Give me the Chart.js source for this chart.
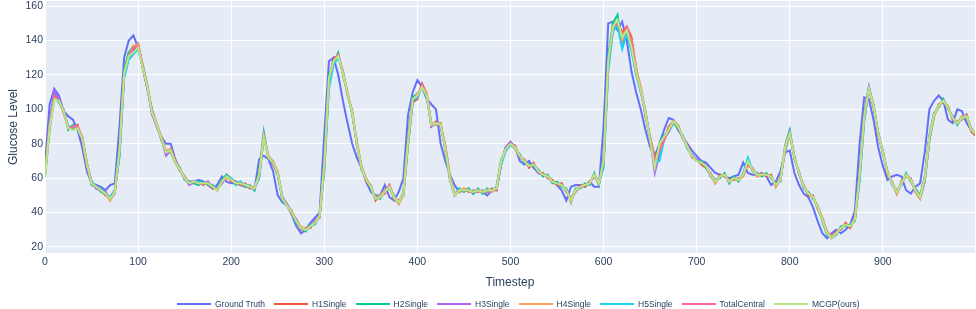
<!DOCTYPE html>
<html>
<head>
<meta charset="utf-8">
<script src="https://cdn.jsdelivr.net/npm/chart.js@4.4.1/dist/chart.umd.min.js"></script>
<style>
  body { margin: 0; background: #fff; }
  #wrap { position: relative; width: 976px; height: 309px; }
  #legend {
    position: absolute; left: 177px; top: 297px; height: 14px;
    display: flex; align-items: center;
    font-family: "Liberation Sans", Arial, sans-serif; font-size: 8.5px; color: #2a3f5f;
    white-space: nowrap;
  }
  .item { display: flex; align-items: center; margin-right: 9px; }
  .swatch { width: 34px; height: 2px; margin-right: 4px; }
</style>
</head>
<body>
<div id="wrap">
  <canvas id="glucoseChart" width="976" height="309"></canvas>
  <div id="legend"></div>
</div>
<script>
// Sampling grid (every 5th timestep, plus the last one)
const timesteps = Array.from({ length: 200 }, (_, i) => i * 5).concat([999]);

const xTicks = [0, 100, 200, 300, 400, 500, 600, 700, 800, 900];
const yTicks = [20, 40, 60, 80, 100, 120, 140, 160];

const seriesNames = ['Ground Truth', 'H1Single', 'H2Single', 'H3Single', 'H4Single', 'H5Single', 'TotalCentral', 'MCGP(ours)'];
const seriesColors = ['#636EFA', '#EF553B', '#00CC96', '#AB63FA', '#FFA15A', '#19D3F3', '#FF6692', '#B6E880'];

const groundTruth = [
  68,103,112,108,99,96,94,88,78,64,57,56,55,53,56,57,90,130,140,143,
  136,124,112,100,91,84,80,80,71,65,60,58,58,59,58,56,54,56,61,58,
  57,57,56,55,55,53,71,73,71,64,50,46,44,39,32,28,30,34,37,40,
  85,128,130,120,105,92,80,72,66,58,52,50,50,56,49,47,52,60,97,110,
  117,113,106,103,100,80,70,62,56,52,53,54,51,53,52,50,53,53,68,78,
  81,78,70,68,70,66,63,62,61,58,56,53,47,55,56,56,55,58,55,55,
  90,150,151,146,151,140,122,110,100,88,78,73,80,88,95,94,88,84,80,76,
  73,70,69,66,63,62,61,60,61,62,69,63,62,62,63,61,56,58,64,75,
  76,63,56,51,49,43,35,28,25,28,30,28,30,33,41,80,107,106,94,78,
  67,59,61,62,61,53,51,55,57,75,100,105,108,105,94,92,100,99,92,88,86
];

const h1Single = [
  63,92,108,106,98,90,89,91,82,67,58,54,53,50,49,53,74,120,133,134,
  138,124,112,99,90,84,74,77,70,64,61,57,57,58,56,58,54,54,57,62,
  58,58,56,57,54,55,60,84,73,68,62,49,45,39,36,30,31,31,35,37,
  66,116,130,131,122,108,99,79,67,58,56,47,50,51,56,48,47,50,80,104,
  106,115,109,90,93,90,79,61,51,52,54,52,53,52,53,52,54,53,68,78,
  79,79,72,71,66,69,63,63,60,59,56,57,52,48,52,56,55,58,61,58,
  68,125,146,150,145,148,142,124,112,96,84,72,76,82,90,93,91,83,79,72,
  71,68,66,63,57,62,61,59,59,60,61,68,66,61,63,61,62,55,60,76,
  85,73,62,56,50,50,42,37,29,26,29,30,34,31,37,60,94,111,103,85,
  76,62,58,51,58,61,60,52,48,58,82,96,103,104,102,94,93,94,97,87,85
];

const h2Single = [
  61,88,109,104,100,88,91,89,84,69,56,55,52,51,47,53,78,124,133,137,
  136,126,114,97,92,82,76,75,69,66,59,58,57,56,58,56,56,53,59,62,
  60,56,58,55,56,53,64,87,71,70,62,47,44,41,34,31,29,33,33,39,
  70,120,127,133,120,110,97,81,65,60,54,49,48,53,54,50,45,52,84,107,
  109,113,107,92,91,92,76,59,50,54,52,54,51,54,51,54,52,55,71,76,
  81,77,74,69,68,67,65,61,62,57,58,55,54,46,54,54,57,56,63,56,
  72,131,150,155,137,144,135,121,110,99,81,67,80,85,87,92,89,85,77,74,
  70,70,66,62,59,60,63,57,61,58,63,71,64,63,61,63,60,57,58,79,
  88,71,64,54,52,48,44,35,27,25,27,32,32,33,35,63,97,113,101,87,
  74,64,56,53,56,63,58,54,50,61,85,98,101,106,100,96,91,96,95,89,86
];

const h3Single = [
  63,93,111,106,99,90,88,90,82,68,58,54,53,52,48,51,75,121,130,135,
  138,125,112,97,90,83,73,76,70,65,60,56,58,57,57,58,55,54,57,61,
  59,58,57,56,55,54,61,85,72,68,64,48,45,40,36,31,30,32,35,38,
  67,117,129,131,122,109,98,80,66,59,55,48,49,52,55,49,46,51,81,105,
  107,114,108,90,92,90,78,60,51,53,53,53,52,53,52,53,53,54,69,78,
  81,78,72,70,67,68,63,62,61,58,57,56,53,48,53,55,56,57,61,57,
  69,127,147,151,139,146,137,121,112,99,83,63,74,83,87,93,90,84,78,73,
  71,69,67,61,58,61,62,58,60,59,62,69,65,62,62,62,61,56,59,78,
  87,72,63,55,51,49,43,36,28,25,28,31,33,32,36,62,97,113,102,86,
  75,63,57,52,57,62,59,53,49,60,84,97,102,105,101,95,92,95,96,88,86
];

const h4Single = [
  62,89,106,105,98,89,90,90,84,69,57,55,53,51,47,52,74,120,131,137,
  138,126,114,99,92,84,76,77,70,65,61,57,58,57,57,57,55,53,58,60,
  59,57,57,56,55,54,62,83,73,70,64,49,44,41,35,32,30,32,34,38,
  65,114,127,131,122,110,99,82,67,60,55,48,50,53,55,48,45,50,79,105,
  109,113,110,92,91,92,79,62,51,52,54,53,52,53,52,53,52,54,69,77,
  80,77,73,70,67,68,64,62,61,58,57,56,53,46,53,55,56,57,62,57,
  67,124,146,151,140,147,140,124,113,98,84,70,77,83,89,93,91,84,79,73,
  70,69,67,62,57,61,62,58,60,59,61,69,65,61,62,62,61,55,59,77,
  85,72,63,56,51,49,44,37,29,26,28,31,33,32,36,59,94,111,102,86,
  75,64,57,51,57,62,59,52,48,58,83,96,102,105,102,95,92,96,96,89,86
];

const h5Single = [
  62,91,107,104,99,90,90,89,83,68,58,55,54,51,49,53,72,118,129,132,
  135,125,113,98,91,83,75,76,69,65,60,57,58,58,57,57,55,54,58,61,
  60,57,58,56,55,54,60,84,72,69,63,49,44,40,35,31,30,32,34,38,
  64,112,126,130,121,109,98,80,66,59,55,48,49,52,55,49,46,51,80,105,
  107,113,108,91,92,91,77,60,50,53,53,53,52,53,52,53,53,54,68,76,
  79,78,73,70,67,68,64,62,61,58,57,56,53,47,53,55,56,57,62,57,
  66,122,145,149,135,144,134,120,110,98,82,69,70,82,88,93,90,84,78,73,
  70,69,67,62,58,61,62,58,60,59,62,72,65,62,62,62,61,56,59,77,
  86,72,63,55,51,49,43,36,28,25,28,31,33,32,36,58,93,112,102,86,
  76,63,57,52,57,62,59,53,49,58,82,97,102,105,101,95,92,95,96,88,86
];

const totalCentral = [
  62,91,108,105,99,89,90,90,83,68,57,55,53,51,48,52,76,122,131,136,
  137,125,113,98,91,83,75,76,69,65,60,57,58,57,57,57,55,53,58,61,
  59,57,57,56,55,54,62,85,72,69,63,48,44,40,35,31,30,32,34,38,
  68,118,128,132,121,109,98,80,66,59,55,48,49,52,56,49,46,51,82,106,
  108,114,108,91,92,91,77,60,50,53,53,53,52,53,52,53,53,54,70,77,
  80,78,73,70,67,68,64,62,61,58,57,56,53,47,53,55,56,57,62,57,
  70,128,148,150,143,148,139,122,111,98,82,70,76,82,88,93,90,84,78,73,
  70,69,67,62,58,61,62,58,60,59,62,68,65,62,62,62,61,56,59,78,
  86,72,63,55,51,49,43,36,28,25,28,31,33,32,36,62,96,112,102,86,
  75,63,57,52,57,62,59,53,49,60,84,97,102,105,101,95,92,95,96,88,86
];

const mcgp = [
  61,90,106,105,99,89,88,89,83,68,57,55,53,51,48,52,76,121,131,133,
  136,124,113,98,91,83,75,76,69,65,60,57,58,57,57,57,55,53,58,61,
  59,57,57,56,55,54,62,84,72,69,63,48,44,40,35,31,30,32,34,38,
  68,118,128,131,121,109,98,80,66,59,55,48,49,52,55,49,46,51,82,106,
  108,113,108,91,92,91,77,60,50,53,53,53,52,53,52,53,53,54,70,77,
  80,78,73,70,67,68,64,62,61,58,57,56,53,47,53,55,56,57,62,57,
  70,128,148,152,142,146,136,122,111,98,82,66,80,84,88,93,90,84,78,73,
  70,69,67,62,58,61,62,58,60,59,62,70,65,62,62,62,61,56,59,78,
  86,72,63,55,51,49,43,36,28,25,28,31,33,32,36,62,96,112,102,86,
  75,63,57,52,57,62,59,53,49,60,84,97,102,105,101,95,92,95,96,88,86
];

const seriesValues = [groundTruth, h1Single, h2Single, h3Single, h4Single, h5Single, totalCentral, mcgp];

const axisFont = { family: '"Liberation Sans", Arial, sans-serif', size: 10.5 };
const titleFont = { family: '"Liberation Sans", Arial, sans-serif', size: 12 };
const textColor = '#2a3f5f';

// Plot background (plotly style)
const plotBackground = {
  id: 'plotBackground',
  beforeDraw(chart) {
    const { ctx, chartArea: a } = chart;
    ctx.save();
    ctx.fillStyle = '#E5ECF6';
    ctx.fillRect(a.left, a.top, a.right - a.left, a.bottom - a.top);
    ctx.restore();
  }
};

const datasets = seriesNames.map((name, i) => ({
  label: name,
  data: timesteps.map((t, k) => ({ x: t, y: seriesValues[i][k] })),
  borderColor: seriesColors[i],
  backgroundColor: seriesColors[i],
  borderWidth: 2,
  pointRadius: 0,
  tension: 0,
  fill: false,
  order: seriesNames.length - 1 - i   // later series drawn on top
}));

const ctx = document.getElementById('glucoseChart').getContext('2d');
new Chart(ctx, {
  type: 'line',
  data: { datasets },
  plugins: [plotBackground],
  options: {
    responsive: false,
    animation: false,
    devicePixelRatio: 1,
    layout: { padding: { top: 1, right: 1, left: 0, bottom: 0 } },
    plugins: {
      legend: { display: false },
      tooltip: { enabled: false }
    },
    scales: {
      x: {
        type: 'linear',
        min: 0,
        max: 999,
        afterFit: (scale) => {
          scale.height = 56;
          scale.paddingLeft = 0;
          scale.paddingRight = 0;
        },
        afterBuildTicks: (scale) => { scale.ticks = xTicks.map(v => ({ value: v })); },
        grid: { color: '#ffffff', lineWidth: 1, drawTicks: false },
        border: { display: false },
        ticks: { color: textColor, font: axisFont, padding: 3, maxRotation: 0 },
        title: { display: true, text: 'Timestep', color: textColor, font: titleFont, padding: { top: 4, bottom: 19 } }
      },
      y: {
        min: 16.5,
        max: 163,
        afterFit: (scale) => {
          scale.width = 45;
          scale.paddingTop = 0;
          scale.paddingBottom = 0;
        },
        afterBuildTicks: (scale) => { scale.ticks = yTicks.map(v => ({ value: v })); },
        grid: { color: '#ffffff', lineWidth: 1, drawTicks: false },
        border: { display: false },
        ticks: { color: textColor, font: axisFont, padding: 2 },
        title: { display: true, text: 'Glucose Level', color: textColor, font: titleFont, padding: { top: 6, bottom: 0 } }
      }
    }
  }
});

// Legend row under the axis title
const legend = document.getElementById('legend');
seriesNames.forEach((name, i) => {
  const item = document.createElement('div');
  item.className = 'item';
  const sw = document.createElement('span');
  sw.className = 'swatch';
  sw.style.background = seriesColors[i];
  const label = document.createElement('span');
  label.textContent = name;
  item.appendChild(sw);
  item.appendChild(label);
  legend.appendChild(item);
});
</script>
</body>
</html>
